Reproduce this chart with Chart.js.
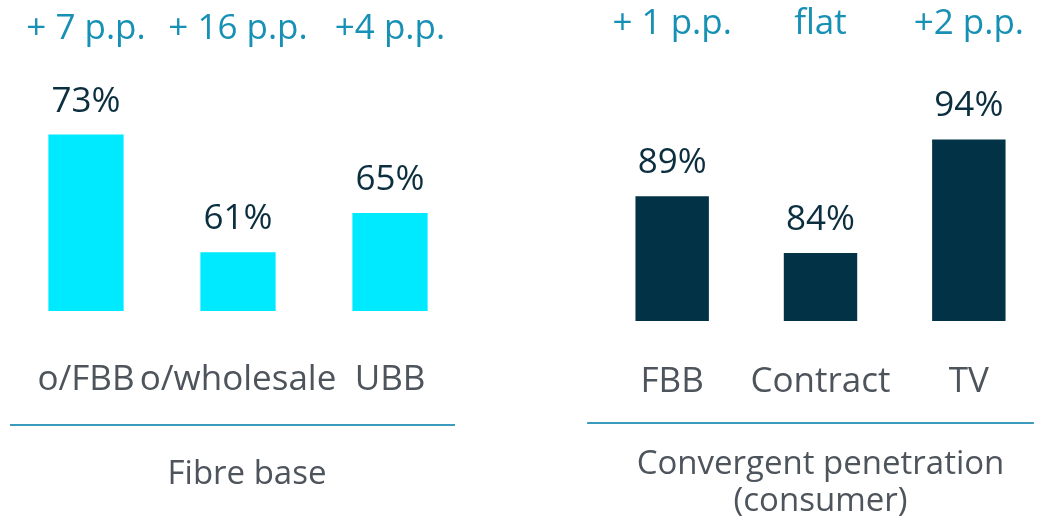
<!DOCTYPE html>
<html>
<head>
<meta charset="utf-8">
<script src="https://cdn.jsdelivr.net/npm/chart.js@4.4.1/dist/chart.umd.min.js"></script>
<style>
  html, body { margin: 0; padding: 0; background: #fff; overflow: hidden; }
  body { width: 1038px; height: 523px; position: relative; }
  canvas { position: absolute; top: 0; }
  #left { left: -20px; }
  #right { left: 520px; }
</style>
</head>
<body>
<canvas id="left" width="540" height="523"></canvas>
<canvas id="right" width="530" height="523"></canvas>
<script>
const fibreLabels = ["o/FBB", "o/wholesale", "UBB"];
const fibreValues = [73, 61, 65];
const fibreChange = ["+ 7 p.p.", "+ 16 p.p.", "+4 p.p."];

const convLabels = ["FBB", "Contract", "TV"];
const convValues = [89, 84, 94];
const convChange = ["+ 1 p.p.", "flat", "+2 p.p."];

const FONT = "'Open Sans', 'Noto Sans', sans-serif";
const teal = "#1690b4";
const navy = "#0c2f40";
const grey = "#4e545c";

// value labels, change labels, divider line and group title
const decor = {
  id: "decor",
  afterDatasetsDraw(chart, args, opts) {
    const ctx = chart.ctx;
    const meta = chart.getDatasetMeta(0);
    ctx.save();
    ctx.textAlign = "center";
    ctx.textBaseline = "alphabetic";
    meta.data.forEach((bar, i) => {
      ctx.fillStyle = navy;
      ctx.font = "35px " + FONT;
      ctx.fillText(chart.data.datasets[0].data[i] + "%", bar.x, bar.y - 23);
      ctx.fillStyle = teal;
      ctx.fillText(opts.change[i], bar.x, opts.changeY);
    });
    // divider line
    const x = chart.scales.x;
    ctx.strokeStyle = "#3a9bbd";
    ctx.lineWidth = 2;
    ctx.beginPath();
    ctx.moveTo(x.getPixelForValue(0) + opts.lineFrom, opts.lineY);
    ctx.lineTo(x.getPixelForValue(2) + opts.lineTo, opts.lineY);
    ctx.stroke();
    // group title
    ctx.fillStyle = grey;
    ctx.font = "33px " + FONT;
    const cx = (x.getPixelForValue(0) + x.getPixelForValue(2)) / 2 + opts.titleShift;
    opts.title.forEach((t, k) => ctx.fillText(t, cx, opts.titleY + k * 37));
    ctx.restore();
  }
};

function makeChart(id, labels, values, color, yMin, yMax, pad, tickPad, decorOpts) {
  return new Chart(document.getElementById(id), {
    type: "bar",
    data: {
      labels: labels,
      datasets: [{
        data: values,
        backgroundColor: color,
        barPercentage: 0.99,
        categoryPercentage: 0.5
      }]
    },
    options: {
      responsive: false,
      animation: false,
      layout: { padding: pad },
      plugins: {
        legend: { display: false },
        tooltip: { enabled: false },
        decor: decorOpts
      },
      scales: {
        x: {
          grid: { display: false, drawTicks: false },
          border: { display: false },
          ticks: {
            color: grey,
            font: { family: FONT, size: 35 },
            padding: tickPad,
            maxRotation: 0,
            minRotation: 0,
            autoSkip: false
          }
        },
        y: { display: false, min: yMin, max: yMax }
      }
    },
    plugins: [decor]
  });
}

makeChart("left", fibreLabels, fibreValues, "#00eaff", 55, 80,
  { top: 66, bottom: 74, left: 30, right: 54 }, 48,
  { change: fibreChange, changeY: 39, lineY: 425, lineFrom: -76, lineTo: 65,
    title: ["Fibre base"], titleY: 484, titleShift: 9 });

makeChart("right", convLabels, convValues, "#023246", 78, 98,
  { top: 94, bottom: 80, left: 78, right: 7 }, 40,
  { change: convChange, changeY: 34, lineY: 423, lineFrom: -85, lineTo: 65,
    title: ["Convergent penetration", "(consumer)"], titleY: 474, titleShift: 0 });
</script>
</body>
</html>
